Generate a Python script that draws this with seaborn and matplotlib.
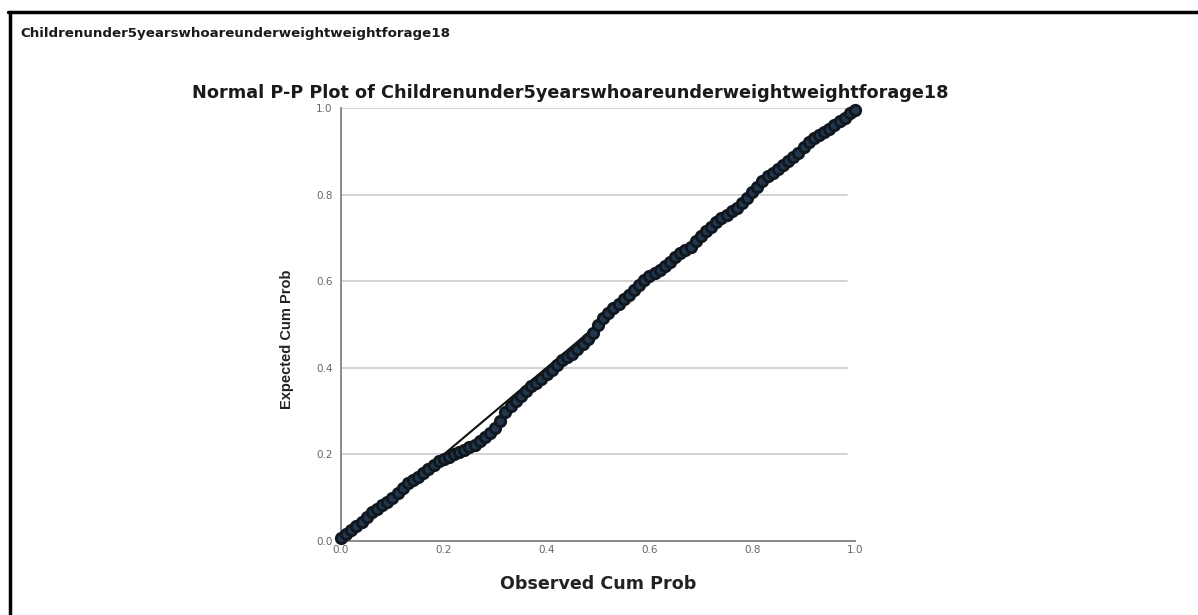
import matplotlib
matplotlib.use("Agg")
import matplotlib.pyplot as plt
import seaborn as sns
import pandas as pd
from matplotlib.lines import Line2D

# ---- data ----
observed = [0.00, 0.01, 0.02, 0.03, 0.04, 0.05, 0.06, 0.07, 0.08, 0.09,
            0.10, 0.11, 0.12, 0.13, 0.14, 0.15, 0.16, 0.17, 0.18, 0.19,
            0.20, 0.21, 0.22, 0.23, 0.24, 0.25, 0.26, 0.27, 0.28, 0.29,
            0.30, 0.31, 0.32, 0.33, 0.34, 0.35, 0.36, 0.37, 0.38, 0.39,
            0.40, 0.41, 0.42, 0.43, 0.44, 0.45, 0.46, 0.47, 0.48, 0.49,
            0.50, 0.51, 0.52, 0.53, 0.54, 0.55, 0.56, 0.57, 0.58, 0.59,
            0.60, 0.61, 0.62, 0.63, 0.64, 0.65, 0.66, 0.67, 0.68, 0.69,
            0.70, 0.71, 0.72, 0.73, 0.74, 0.75, 0.76, 0.77, 0.78, 0.79,
            0.80, 0.81, 0.82, 0.83, 0.84, 0.85, 0.86, 0.87, 0.88, 0.89,
            0.90, 0.91, 0.92, 0.93, 0.94, 0.95, 0.96, 0.97, 0.98, 0.99, 1.00]
expected = [0.008, 0.016, 0.025, 0.034, 0.044, 0.056, 0.066, 0.075, 0.083, 0.091,
            0.100, 0.110, 0.122, 0.135, 0.141, 0.148, 0.158, 0.167, 0.176, 0.185,
            0.190, 0.195, 0.200, 0.205, 0.211, 0.216, 0.222, 0.230, 0.240, 0.250,
            0.262, 0.276, 0.298, 0.312, 0.324, 0.335, 0.346, 0.357, 0.366, 0.375,
            0.385, 0.395, 0.406, 0.417, 0.425, 0.433, 0.444, 0.455, 0.466, 0.480,
            0.498, 0.514, 0.527, 0.538, 0.548, 0.558, 0.568, 0.580, 0.592, 0.603,
            0.612, 0.618, 0.625, 0.635, 0.645, 0.655, 0.664, 0.672, 0.680, 0.692,
            0.704, 0.715, 0.726, 0.737, 0.745, 0.754, 0.762, 0.770, 0.780, 0.792,
            0.805, 0.818, 0.831, 0.842, 0.851, 0.859, 0.868, 0.877, 0.887, 0.897,
            0.909, 0.921, 0.930, 0.938, 0.945, 0.952, 0.960, 0.970, 0.978, 0.988, 0.996]
ref_line = [0.0, 1.0]
ticks = [0.0, 0.2, 0.4, 0.6, 0.8, 1.0]
tick_labels = ["0.0", "0.2", "0.4", "0.6", "0.8", "1.0"]

header = "Childrenunder5yearswhoareunderweightweightforage18"
title = "Normal P-P Plot of Childrenunder5yearswhoareunderweightweightforage18"
xlabel = "Observed Cum Prob"
ylabel = "Expected Cum Prob"

sns.set_theme(style="white")
plt.rcParams['font.family'] = ['DejaVu Sans']

W, H = 1198, 615
fig = plt.figure(figsize=(W / 100, H / 100), dpi=100)
fig.patch.set_facecolor("white")

ax = fig.add_axes([341 / W, 1 - 541 / H, 514 / W, 433 / H])
ax.set_facecolor("white")

df = pd.DataFrame({"obs": observed, "exp": expected})
ref = pd.DataFrame({"x": ref_line, "y": ref_line})

for y in ticks[1:]:
    ax.axhline(y, xmax=0.985, color="#cfcfcf", lw=1.3, zorder=0)

sns.lineplot(data=ref, x="x", y="y", ax=ax, color="#111111", lw=1.5, zorder=2)
sns.scatterplot(data=df, x="obs", y="exp", ax=ax, s=55, marker="o",
                facecolor="#22374e", edgecolor="#10171f", linewidth=2.1,
                zorder=3, clip_on=False)

ax.set_xlim(0, 1)
ax.set_ylim(0, 1)
ax.set_xticks(ticks)
ax.set_yticks(ticks)
ax.set_xticklabels(tick_labels, fontsize=7.5, color="#666666")
ax.set_yticklabels(tick_labels, fontsize=7.5, color="#666666")
ax.tick_params(axis="both", length=0)
ax.tick_params(axis="x", pad=3)
ax.tick_params(axis="y", pad=6)
for s in ["top", "right"]:
    ax.spines[s].set_visible(False)
for s in ["left", "bottom"]:
    ax.spines[s].set_color("#808080")
    ax.spines[s].set_linewidth(1.3)

ax.set_xlabel(xlabel, fontsize=12.6, fontweight="bold", color="#222222", labelpad=14)
ax.set_ylabel(ylabel, fontsize=10.5, fontweight="bold", color="#222222",
              family="Liberation Sans")
ax.yaxis.set_label_coords(-0.092, 0.466)

fig.text(570 / W, 1 - 93 / H, title, ha="center", va="center",
         fontsize=12.7, fontweight="bold", color="#1a1a1a")
fig.text(20 / W, 1 - 33 / H, header, ha="left", va="center",
         fontsize=9.6, fontweight="bold", color="#1a1a1a")

# outer frame (top and left edges visible)
fig.add_artist(Line2D([8 / W, 1.0], [1 - 12 / H, 1 - 12 / H],
                      transform=fig.transFigure, color="black", lw=2.5))
fig.add_artist(Line2D([10 / W, 10 / W], [0.0, 1 - 12 / H],
                      transform=fig.transFigure, color="black", lw=2.5))

fig.savefig("out.png", dpi=100, facecolor="white")
